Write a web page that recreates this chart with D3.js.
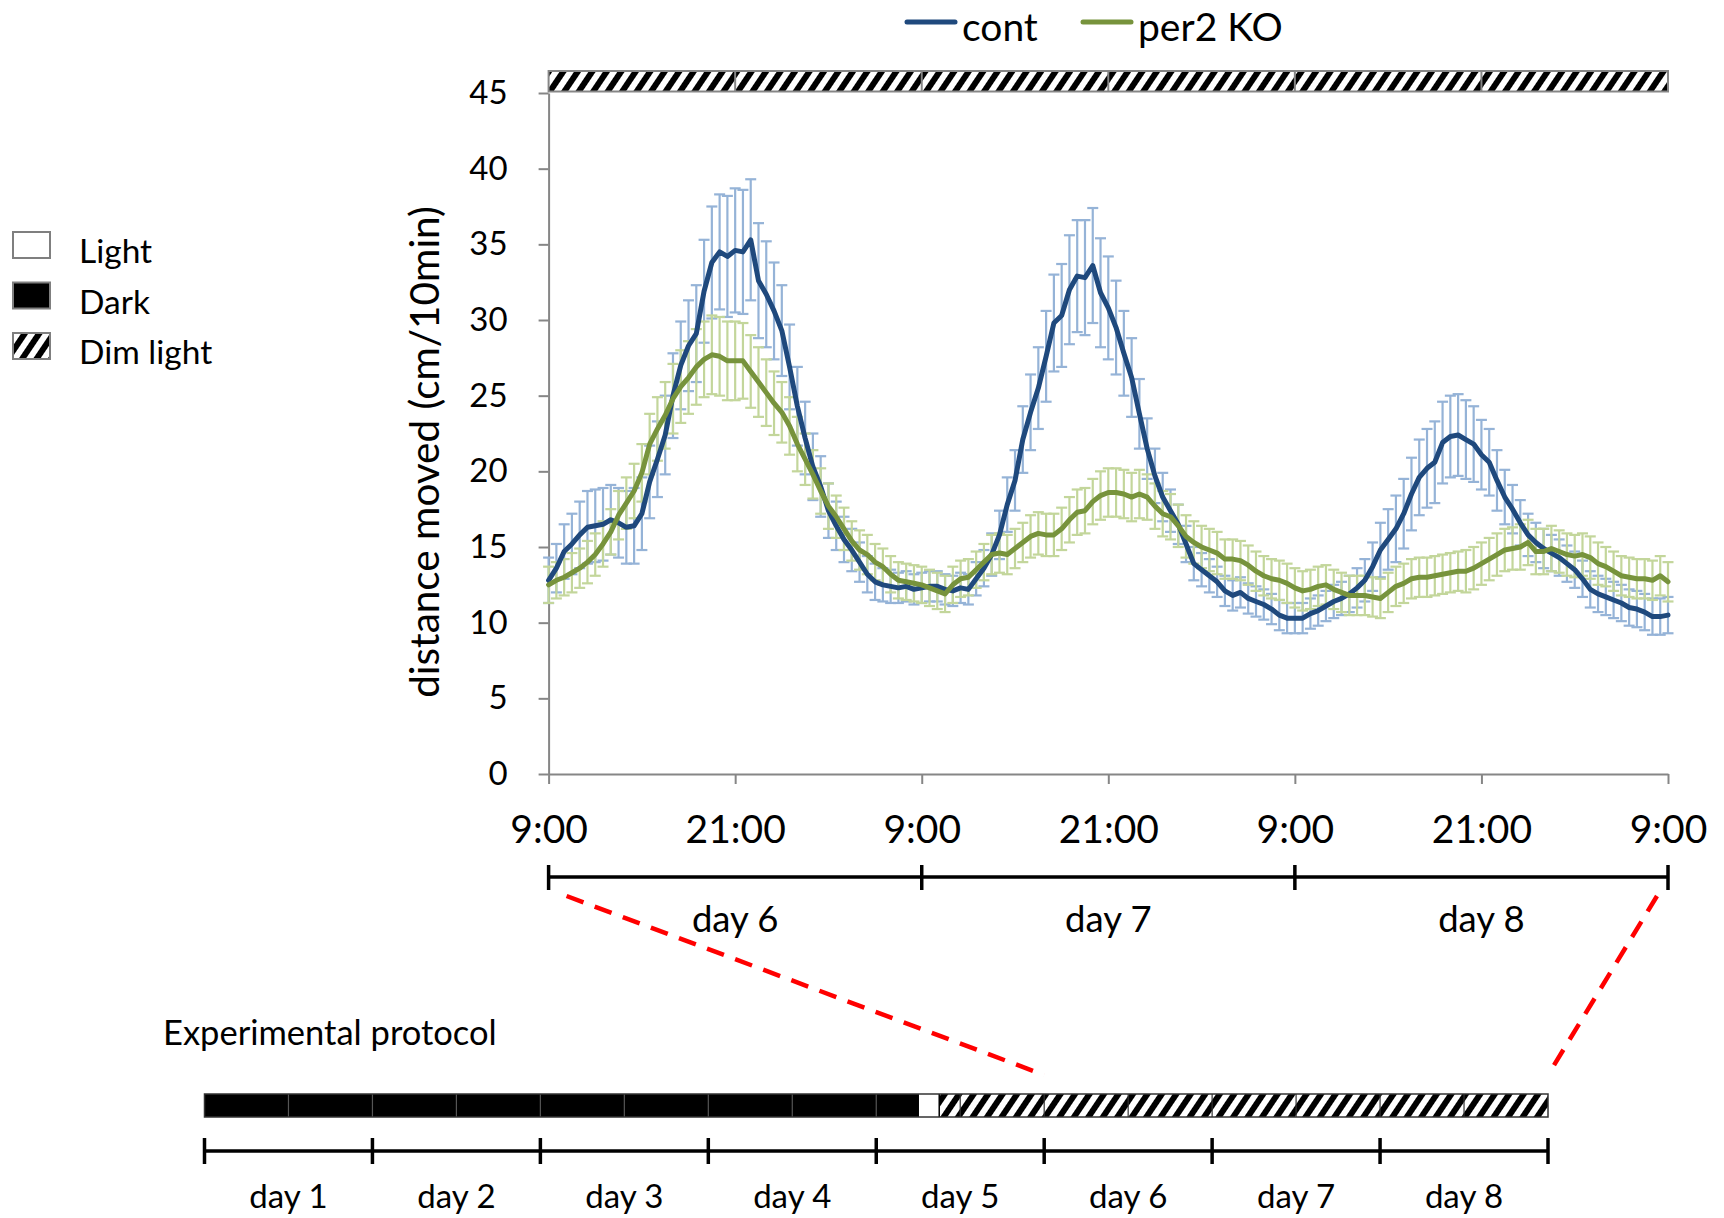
<!DOCTYPE html>
<html><head><meta charset="utf-8">
<script src="https://cdn.jsdelivr.net/npm/d3@7"></script>
<style>
body{margin:0;background:#fff;}
svg{display:block;}
text{font-family:Lato,'Noto Sans',sans-serif;fill:#000;}
</style></head><body>
<svg id="chart" width="1724" height="1218"></svg>
<script>
// ---------- data ----------
const seriesNames = ["cont", "per2 KO"];
const stepHours = 0.5; // one value every 30 min, 9:00 day 6 -> 9:00 day 9
const contMean = [
12.8,13.6,14.7,15.2,15.8,16.3,16.4,16.5,16.8,16.6,
16.3,16.4,17.2,19.3,20.8,22.4,25.0,27.0,28.3,29.1,
31.9,33.8,34.5,34.2,34.6,34.5,35.3,32.6,31.7,30.6,
29.3,26.9,24.3,22.2,20.3,19.0,17.4,16.4,15.5,14.8,
14.0,13.2,12.7,12.5,12.4,12.3,12.4,12.2,12.3,12.4,
12.4,12.2,12.1,12.3,12.2,12.9,13.6,14.5,15.8,17.8,
19.4,22.1,23.9,25.5,27.6,29.8,30.3,32.0,32.9,32.8,
33.6,31.8,30.8,29.5,27.8,26.2,23.8,21.5,19.7,18.3,
17.4,16.5,15.2,13.9,13.5,13.1,12.7,12.1,11.8,12.0,
11.6,11.4,11.2,10.9,10.5,10.3,10.3,10.3,10.6,10.8,
11.1,11.4,11.6,11.9,12.3,12.8,13.7,14.8,15.5,16.2,
17.2,18.5,19.6,20.2,20.6,21.9,22.3,22.4,22.1,21.8,
21.1,20.6,19.4,18.3,17.5,16.6,15.8,15.3,14.9,14.6,
14.3,13.9,13.5,12.9,12.2,11.9,11.7,11.5,11.3,11.0,
10.9,10.7,10.4,10.4,10.5];
const contErr = [
1.5,1.6,1.8,2.0,2.2,2.4,2.4,2.4,2.3,2.3,
2.4,2.5,2.4,2.4,2.5,2.6,2.8,2.9,3.0,3.2,
3.4,3.7,3.8,4.0,4.1,4.1,4.0,3.8,3.5,3.2,
3.0,2.8,2.6,2.4,2.2,2.0,1.8,1.6,1.5,1.4,
1.3,1.2,1.2,1.1,1.1,1.0,1.0,1.0,1.0,1.0,
1.0,1.0,1.0,1.0,1.0,1.1,1.2,1.4,1.6,1.8,
2.0,2.2,2.5,2.7,3.0,3.2,3.4,3.6,3.7,3.8,
3.8,3.6,3.4,3.1,2.8,2.6,2.3,2.0,1.8,1.6,
1.4,1.3,1.2,1.1,1.1,1.1,1.0,1.0,1.0,1.0,
1.0,1.0,1.0,1.0,1.0,1.0,1.0,1.0,1.0,1.0,
1.0,1.1,1.1,1.2,1.3,1.4,1.6,1.8,2.0,2.2,
2.3,2.4,2.5,2.6,2.7,2.7,2.7,2.7,2.6,2.5,
2.3,2.2,2.0,1.8,1.6,1.5,1.4,1.3,1.3,1.2,
1.2,1.2,1.2,1.2,1.2,1.2,1.2,1.2,1.2,1.2,
1.2,1.2,1.2,1.2,1.2];
const koMean = [
12.5,12.8,13.0,13.3,13.6,14.0,14.5,15.2,16.0,17.1,
17.9,18.7,19.9,21.8,22.8,23.7,24.8,25.6,26.2,26.9,
27.4,27.7,27.6,27.3,27.3,27.3,26.6,25.9,25.2,24.5,
23.9,23.0,21.8,20.8,19.8,18.7,17.7,17.0,16.2,15.4,
14.8,14.5,14.0,13.7,13.2,12.8,12.7,12.6,12.5,12.3,
12.1,11.9,12.5,12.9,13.0,13.5,14.0,14.5,14.6,14.5,
14.9,15.3,15.7,15.9,15.8,15.8,16.2,16.8,17.3,17.4,
18.0,18.4,18.6,18.6,18.5,18.3,18.5,18.3,17.7,17.2,
17.0,16.4,15.7,15.3,15.0,14.8,14.6,14.2,14.2,14.1,
13.8,13.4,13.1,12.9,12.8,12.6,12.3,12.1,12.2,12.4,
12.5,12.2,12.0,11.8,11.8,11.8,11.7,11.6,12.0,12.4,
12.6,12.9,13.0,13.0,13.1,13.2,13.3,13.4,13.4,13.6,
13.9,14.2,14.5,14.8,14.9,15.0,15.3,14.7,14.7,14.9,
14.7,14.5,14.4,14.5,14.3,13.9,13.7,13.4,13.1,13.0,
12.9,12.9,12.8,13.1,12.7];
const koErr = [
1.2,1.2,1.2,1.3,1.3,1.4,1.4,1.5,1.5,1.6,
1.7,1.8,1.9,2.0,2.1,2.2,2.3,2.4,2.4,2.5,
2.5,2.6,2.6,2.6,2.6,2.5,2.4,2.3,2.2,2.1,
2.0,1.9,1.8,1.7,1.6,1.5,1.5,1.4,1.4,1.3,
1.3,1.3,1.2,1.2,1.2,1.2,1.2,1.2,1.2,1.2,
1.2,1.2,1.2,1.2,1.2,1.2,1.2,1.3,1.3,1.3,
1.3,1.3,1.4,1.4,1.4,1.4,1.4,1.5,1.5,1.5,
1.5,1.6,1.6,1.6,1.6,1.6,1.6,1.5,1.5,1.5,
1.5,1.4,1.4,1.4,1.4,1.4,1.4,1.3,1.3,1.3,
1.3,1.3,1.3,1.3,1.3,1.3,1.3,1.3,1.3,1.3,
1.3,1.3,1.3,1.3,1.3,1.3,1.3,1.3,1.3,1.3,
1.3,1.3,1.3,1.3,1.3,1.3,1.3,1.3,1.4,1.4,
1.4,1.4,1.4,1.4,1.4,1.5,1.5,1.5,1.5,1.5,
1.4,1.4,1.4,1.4,1.4,1.4,1.3,1.3,1.3,1.3,
1.3,1.3,1.3,1.3,1.3];
const yTicks = [0,5,10,15,20,25,30,35,40,45];
const xTickHours = [0,12,24,36,48,60,72];
const xTickLabels = ["9:00","21:00","9:00","21:00","9:00","21:00","9:00"];
const zoomDayLabels = ["day 6","day 7","day 8"];
const zoomDayBounds = [0,24,48,72];
const yTitle = "distance moved (cm/10min)";
const lightLegend = ["Light","Dark","Dim light"];
const lightKinds = ["light","dark","dim"];
const protocolTitle = "Experimental protocol";
const protocolDayLabels = ["day 1","day 2","day 3","day 4","day 5","day 6","day 7","day 8"];
const protocolPhase = ["dark","light","dim"];
const protocolStartH = [0,102,105];
const protocolEndH = [102,105,192];
const zoomWindowH = [120,192]; // day 6 9:00 -> day 9 9:00 in protocol hours

// ---------- styles ----------
const C = {cont:"#1f497d", contErr:"#95b3d7", ko:"#77933c", koErr:"#c3d69b", axis:"#868686", red:"#ff0000"};

const svg = d3.select("#chart");
const defs = svg.append("defs");
const pat = defs.append("pattern").attr("id","hatch").attr("patternUnits","userSpaceOnUse")
  .attr("width",12).attr("height",12).attr("patternTransform","rotate(34)");
pat.append("rect").attr("width",12).attr("height",12).attr("fill","#fff");
pat.append("rect").attr("width",6).attr("height",12).attr("fill","#000");
const fillFor = k => k==="dark" ? "#000" : k==="light" ? "#fff" : "url(#hatch)";

// ---------- main chart ----------
const x = d3.scaleLinear().domain([0,72]).range([548.6,1668]);
const y = d3.scaleLinear().domain([0,45]).range([774,93]);
const hours = contMean.map((_,i)=>i*stepHours);

// top dim light band
const band = svg.append("g");
const halfDays = d3.range(0,72,12);
band.append("rect").attr("x",x(0)).attr("y",71).attr("width",x(72)-x(0)).attr("height",20.5)
  .attr("fill","url(#hatch)").attr("stroke",C.axis).attr("stroke-width",2);
band.selectAll("line.div").data(halfDays.slice(1)).join("line")
  .attr("x1",d=>x(d)).attr("x2",d=>x(d)).attr("y1",71).attr("y2",91.5)
  .attr("stroke",C.axis).attr("stroke-width",2);

// axes
const yAxis = svg.append("g").attr("transform",`translate(${x(0)},0)`)
  .call(d3.axisLeft(y).tickValues(yTicks).tickSize(10).tickSizeOuter(0).tickPadding(31).tickFormat(d3.format("d")));
yAxis.select(".domain").attr("stroke",C.axis).attr("stroke-width",2);
yAxis.selectAll(".tick line").attr("stroke",C.axis).attr("stroke-width",2);
yAxis.selectAll(".tick text").attr("font-family","'DejaVu Sans',sans-serif").attr("font-size",33).attr("fill","#000");

const xAxis = svg.append("g").attr("transform",`translate(0,${y(0)})`)
  .call(d3.axisBottom(x).tickValues(xTickHours).tickSize(10).tickSizeOuter(0).tickFormat((d,i)=>xTickLabels[i]));
xAxis.select(".domain").attr("stroke",C.axis).attr("stroke-width",2);
xAxis.selectAll(".tick line").attr("stroke",C.axis).attr("stroke-width",2);
xAxis.selectAll(".tick text").attr("font-family","Lato,sans-serif").attr("font-size",39)
  .attr("y",69).attr("dy",null).attr("fill","#000");

svg.append("text").attr("transform",`translate(439,452) rotate(-90)`).attr("text-anchor","middle")
  .attr("font-size",40.5).text(yTitle);

// error bars
function errBars(mean, err, color){
  const g = svg.append("g").attr("stroke",color).attr("stroke-width",2.2);
  mean.forEach((m,i)=>{
    const cx = x(hours[i]), y1 = y(m+err[i]), y2 = y(m-err[i]);
    g.append("line").attr("x1",cx).attr("x2",cx).attr("y1",y1).attr("y2",y2);
    g.append("line").attr("x1",cx-5.5).attr("x2",cx+5.5).attr("y1",y1).attr("y2",y1);
    g.append("line").attr("x1",cx-5.5).attr("x2",cx+5.5).attr("y1",y2).attr("y2",y2);
  });
}
errBars(contMean, contErr, C.contErr);
errBars(koMean, koErr, C.koErr);

const line = d3.line().x((d,i)=>x(hours[i])).y(d=>y(d));
svg.append("path").datum(contMean).attr("d",line).attr("fill","none").attr("stroke",C.cont)
  .attr("stroke-width",5).attr("stroke-linejoin","round").attr("stroke-linecap","round");
svg.append("path").datum(koMean).attr("d",line).attr("fill","none").attr("stroke",C.ko)
  .attr("stroke-width",5).attr("stroke-linejoin","round").attr("stroke-linecap","round");

// legend top
const legX = [907, 1083];
const legColors = [C.cont, C.ko];
seriesNames.forEach((n,i)=>{
  svg.append("line").attr("x1",legX[i]).attr("x2",legX[i]+48).attr("y1",22).attr("y2",22)
    .attr("stroke",legColors[i]).attr("stroke-width",5).attr("stroke-linecap","round");
  svg.append("text").attr("x",legX[i]+55).attr("y",41).attr("font-size",39).text(n);
});

// day bracket under the main chart
const dayG = svg.append("g");
dayG.append("line").attr("x1",x(0)).attr("x2",x(72)).attr("y1",877).attr("y2",877).attr("stroke","#000").attr("stroke-width",3.5);
dayG.selectAll("line.t").data(zoomDayBounds).join("line").attr("class","t")
  .attr("x1",d=>x(d)).attr("x2",d=>x(d)).attr("y1",865).attr("y2",890).attr("stroke","#000").attr("stroke-width",3.5);
dayG.selectAll("text").data(zoomDayLabels).join("text")
  .attr("x",(d,i)=>x((zoomDayBounds[i]+zoomDayBounds[i+1])/2)).attr("y",932)
  .attr("text-anchor","middle").attr("font-size",36.5).text(d=>d);

// ---------- left legend ----------
const legBoxY = [232, 282.5, 333];
lightLegend.forEach((n,i)=>{
  svg.append("rect").attr("x",13).attr("y",legBoxY[i]).attr("width",37).attr("height",26)
    .attr("fill",fillFor(lightKinds[i])).attr("stroke","#7f7f7f").attr("stroke-width",2);
  svg.append("text").attr("x",79).attr("y",legBoxY[i]+31).attr("font-size",33.5).text(n);
});

// ---------- protocol ----------
const px = d3.scaleLinear().domain([0,192]).range([204.5,1548]);
svg.append("text").attr("x",163).attr("y",1045).attr("font-size",34.5).text(protocolTitle);
const pg = svg.append("g");
protocolPhase.forEach((p,i)=>{
  pg.append("rect").attr("x",px(protocolStartH[i])).attr("y",1094).attr("width",px(protocolEndH[i])-px(protocolStartH[i]))
    .attr("height",23).attr("fill",fillFor(p));
});
pg.selectAll("line.div").data(d3.range(12,192,12)).join("line")
  .attr("x1",d=>px(d)).attr("x2",d=>px(d)).attr("y1",1094).attr("y2",1117)
  .attr("stroke",d=>d<protocolEndH[0]?"#555":"#333").attr("stroke-width",1.2);
[protocolStartH[1],protocolEndH[1]].forEach(h=>{
  pg.append("line").attr("x1",px(h)).attr("x2",px(h)).attr("y1",1094).attr("y2",1117).attr("stroke","#000").attr("stroke-width",1.5);
});
pg.append("rect").attr("x",px(0)).attr("y",1094).attr("width",px(192)-px(0)).attr("height",23)
  .attr("fill","none").attr("stroke","#333").attr("stroke-width",1.5);

const dayTicks = d3.range(0,193,24);
pg.append("line").attr("x1",px(0)).attr("x2",px(192)).attr("y1",1151).attr("y2",1151).attr("stroke","#000").attr("stroke-width",3.5);
pg.selectAll("line.dt").data(dayTicks).join("line").attr("class","dt")
  .attr("x1",d=>px(d)).attr("x2",d=>px(d)).attr("y1",1138).attr("y2",1164).attr("stroke","#000").attr("stroke-width",3.5);
pg.selectAll("text.dl").data(protocolDayLabels).join("text").attr("class","dl")
  .attr("x",(d,i)=>px(i*24+12)).attr("y",1208).attr("text-anchor","middle").attr("font-size",33).text(d=>d);

// red dashed zoom connectors
const conn = [[x(0)+18, 896, px(zoomWindowH[0]), 1075],[x(72)-11, 896, px(zoomWindowH[1]), 1075]];
svg.selectAll("line.conn").data(conn).join("line").attr("class","conn")
  .attr("x1",d=>d[0]).attr("y1",d=>d[1]).attr("x2",d=>d[2]).attr("y2",d=>d[3])
  .attr("stroke",C.red).attr("stroke-width",4.5).attr("stroke-dasharray","18,12");
</script>
</body></html>
